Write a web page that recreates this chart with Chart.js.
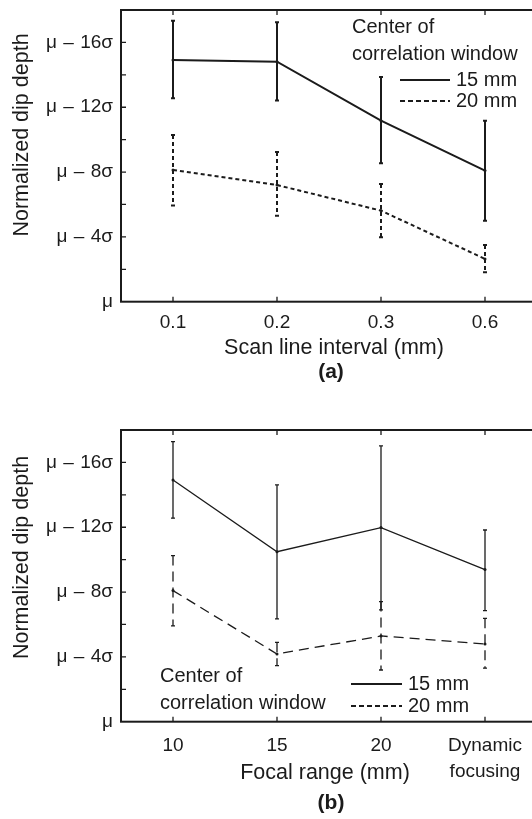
<!DOCTYPE html>
<html>
<head>
<meta charset="utf-8">
<script src="https://cdn.jsdelivr.net/npm/chart.js@4.4.1/dist/chart.umd.min.js"></script>
<style>
  html, body { margin: 0; padding: 0; background: #fff; overflow: hidden; width: 532px; height: 819px; }
  .panel { position: absolute; left: 0; }
</style>
</head>
<body>
<div class="panel" style="top:0"><canvas id="chartA" width="545" height="390"></canvas></div>
<div class="panel" style="top:390px"><canvas id="chartB" width="545" height="429"></canvas></div>
<script>
// panel (a): scan line interval
const scanLabels = ["0.1", "0.2", "0.3", "0.6"];
const scan15 = [14.92, 14.81, 11.17, 8.09];
const scan15Low = [12.56, 12.41, 8.54, 5.0];
const scan15High = [17.33, 17.25, 13.87, 11.17];
const scan20 = [8.13, 7.2, 5.62, 2.64];
const scan20Low = [5.93, 5.31, 3.98, 1.81];
const scan20High = [10.29, 9.24, 7.27, 3.5];

// panel (b): focal range
const focalLabels = ["10", "15", "20", ["Dynamic", "focusing"]];
const focal15 = [14.92, 10.49, 11.98, 9.39];
const focal15Low = [12.56, 6.34, 6.9, 6.85];
const focal15High = [17.28, 14.61, 17.02, 11.83];
const focal20 = [8.09, 4.18, 5.29, 4.8];
const focal20Low = [5.91, 3.46, 3.19, 3.3];
const focal20High = [10.25, 4.9, 7.41, 6.38];

// y axis: multiples of sigma below mu
const yTicks = [0, 4, 8, 12, 16];
const yTickLabels = ["\u03bc", "\u03bc\u2004\u2013\u20044\u03c3", "\u03bc\u2004\u2013\u20048\u03c3", "\u03bc\u2004\u2013\u200412\u03c3", "\u03bc\u2004\u2013\u200416\u03c3"];

const ink = "#1b1b1b";
const family = "'Liberation Sans', Arial, Helvetica, sans-serif";

function makePanel(canvasID, p) {
  const ctx = document.getElementById(canvasID).getContext("2d");
  const series = [
    { label: "15 mm", values: p.solid, low: p.solidLow, high: p.solidHigh, dash: [] },
    { label: "20 mm", values: p.dashed, low: p.dashedLow, high: p.dashedHigh, dash: p.dash },
  ];

  const framePlugin = {
    id: "frame",
    beforeDatasetsDraw(chart) {
      const { ctx, chartArea: a, scales } = chart;
      ctx.save();
      ctx.strokeStyle = ink;
      ctx.lineWidth = 2;
      ctx.strokeRect(a.left, a.top, a.right - a.left, a.bottom - a.top);
      ctx.lineWidth = 1.3;
      ctx.beginPath();
      for (let v = 2; v <= 16; v += 2) {
        const y = scales.y.getPixelForValue(v);
        ctx.moveTo(a.left, y); ctx.lineTo(a.left + 5, y);
      }
      for (let i = 1; i <= 4; i++) {
        const x = scales.x.getPixelForValue(i);
        ctx.moveTo(x, a.bottom); ctx.lineTo(x, a.bottom - 5);
        ctx.moveTo(x, a.top); ctx.lineTo(x, a.top + 5);
      }
      ctx.stroke();
      ctx.restore();
    },
  };

  const errorBarPlugin = {
    id: "errorBars",
    afterDatasetsDraw(chart) {
      const { ctx, scales } = chart;
      ctx.save();
      ctx.strokeStyle = ink;
      ctx.lineWidth = p.lw;
      series.forEach((s) => {
        ctx.setLineDash(s.dash);
        s.values.forEach((v, i) => {
          const x = scales.x.getPixelForValue(i + 1);
          ctx.beginPath();
          ctx.moveTo(x, scales.y.getPixelForValue(s.high[i]));
          ctx.lineTo(x, scales.y.getPixelForValue(s.low[i]));
          ctx.stroke();
        });
        ctx.setLineDash([]);
        s.values.forEach((v, i) => {
          const x = scales.x.getPixelForValue(i + 1);
          const yl = scales.y.getPixelForValue(s.low[i]);
          const yh = scales.y.getPixelForValue(s.high[i]);
          ctx.beginPath();
          ctx.moveTo(x - 2, yh); ctx.lineTo(x + 2, yh);
          ctx.moveTo(x - 2, yl); ctx.lineTo(x + 2, yl);
          ctx.stroke();
        });
      });
      ctx.restore();
    },
  };

  const textPlugin = {
    id: "texts",
    afterDraw(chart) {
      const { ctx } = chart;
      ctx.save();
      ctx.fillStyle = ink;
      ctx.textBaseline = "middle";
      // y title
      ctx.save();
      ctx.translate(22, p.yTitleY);
      ctx.rotate(-Math.PI / 2);
      ctx.textAlign = "center";
      ctx.font = "21.5px " + family;
      ctx.fillText("Normalized dip depth", 0, 0);
      ctx.restore();
      // x title + panel tag
      ctx.textAlign = "center";
      ctx.font = "21.5px " + family;
      ctx.fillText(p.xTitle, p.xTitleX, p.xTitleY);
      ctx.font = "bold 21px " + family;
      ctx.fillText(p.tag, 331, p.tagY);
      // legend
      const L = p.legend;
      ctx.textAlign = "left";
      ctx.font = "20px " + family;
      ctx.fillText("Center of", L.textX, L.row1);
      ctx.fillText("correlation window", L.textX, L.row2);
      ctx.fillText("15 mm", L.labelX, L.row3);
      ctx.fillText("20 mm", L.labelX, L.row4);
      ctx.lineWidth = 2;
      ctx.strokeStyle = ink;
      ctx.beginPath();
      ctx.moveTo(L.lineX0, L.row3); ctx.lineTo(L.lineX1, L.row3);
      ctx.stroke();
      ctx.setLineDash([5, 3]);
      ctx.beginPath();
      ctx.moveTo(L.lineX0, L.row4); ctx.lineTo(L.lineX1, L.row4);
      ctx.stroke();
      ctx.restore();
    },
  };

  return new Chart(ctx, {
    type: "line",
    data: {
      datasets: series.map((s) => ({
        label: s.label,
        data: s.values.map((v, i) => ({ x: i + 1, y: v })),
        borderColor: ink,
        backgroundColor: ink,
        borderWidth: p.lw,
        borderDash: s.dash,
        pointRadius: 1.5,
        pointBorderWidth: 0,
        tension: 0,
      })),
    },
    options: {
      responsive: false,
      animation: false,
      layout: { padding: { top: p.top, right: 8, left: 0, bottom: 0 } },
      plugins: { legend: { display: false }, tooltip: { enabled: false } },
      scales: {
        x: {
          type: "linear",
          min: 0.5,
          max: 4.5,
          grid: { display: false },
          border: { display: false },
          afterBuildTicks: (s) => { s.ticks = [1, 2, 3, 4].map((v) => ({ value: v })); },
          afterFit: (s) => { s.height = p.xh; s.paddingLeft = 0; s.paddingRight = 0; },
          ticks: {
            padding: p.xPad,
            color: ink,
            maxRotation: 0,
            autoSkip: false,
            font: { family: family, size: 19, lineHeight: 1.32 },
            callback: (v) => p.xLabels[v - 1],
          },
        },
        y: {
          min: 0,
          max: 18,
          grid: { display: false },
          border: { display: false },
          afterBuildTicks: (s) => { s.ticks = yTicks.map((v) => ({ value: v })); },
          afterFit: (s) => { s.width = 121; s.paddingTop = 0; s.paddingBottom = 0; },
          ticks: {
            padding: 0,
            color: ink,
            font: { family: family, size: 19 },
            callback: (v) => yTickLabels[yTicks.indexOf(v)],
          },
        },
      },
    },
    plugins: [framePlugin, errorBarPlugin, textPlugin],
  });
}

makePanel("chartA", {
  xLabels: scanLabels,
  solid: scan15, solidLow: scan15Low, solidHigh: scan15High,
  dashed: scan20, dashedLow: scan20Low, dashedHigh: scan20High,
  dash: [4, 3], lw: 2,
  top: 10, xh: 88.3, xPad: 1,
  yTitleY: 135, xTitle: "Scan line interval (mm)", xTitleX: 334, xTitleY: 348,
  tag: "(a)", tagY: 372,
  legend: { textX: 352, row1: 27, row2: 54, row3: 80, row4: 101, lineX0: 400, lineX1: 450, labelX: 456 },
});

makePanel("chartB", {
  xLabels: focalLabels,
  solid: focal15, solidLow: focal15Low, solidHigh: focal15High,
  dashed: focal20, dashedLow: focal20Low, dashedHigh: focal20High,
  dash: [10, 6], lw: 1.3,
  top: 40, xh: 97.3, xPad: 4,
  yTitleY: 167.5, xTitle: "Focal range (mm)", xTitleX: 325, xTitleY: 382.7,
  tag: "(b)", tagY: 413,
  legend: { textX: 160, row1: 286.7, row2: 313, row3: 294, row4: 316, lineX0: 351, lineX1: 402, labelX: 408 },
});
</script>
</body>
</html>
